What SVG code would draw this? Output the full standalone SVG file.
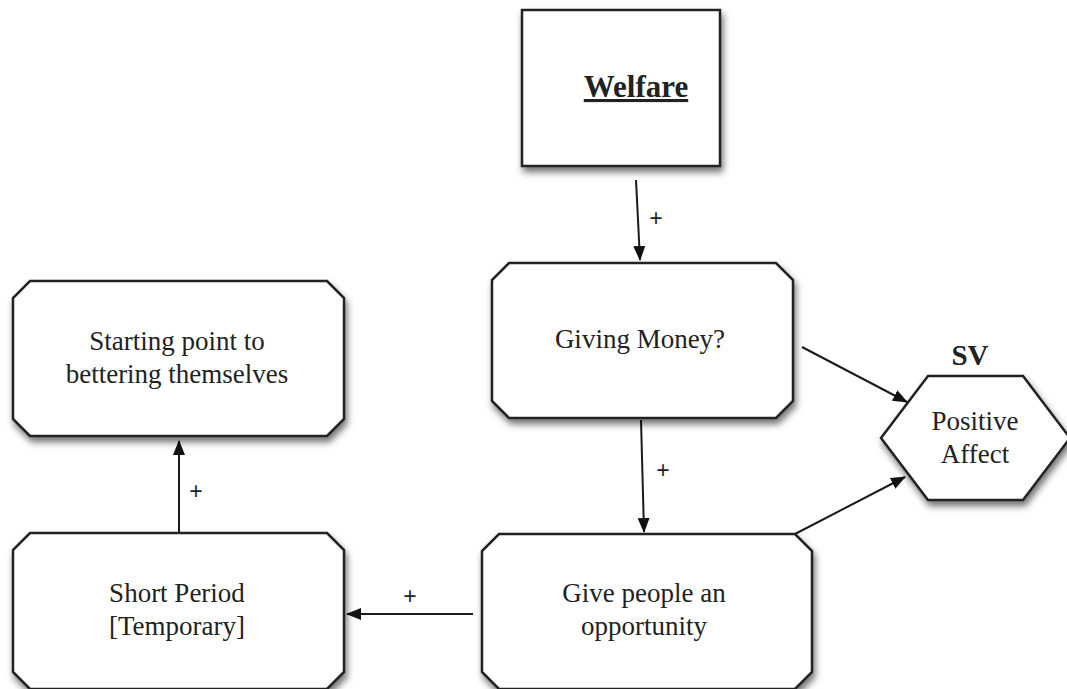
<svg xmlns="http://www.w3.org/2000/svg" width="1067" height="689" viewBox="0 0 1067 689">
<style>
.node{fill:#fff;stroke:#222;stroke-width:2.5;filter:url(#sh)}
text.t{font-family:'Liberation Serif','DejaVu Serif','Times New Roman',serif;font-size:27px;fill:#222;text-anchor:middle}
text.b{font-weight:bold}
text.w{font-size:31px;text-decoration:underline}
text.sv{font-size:29px}
.edge{stroke:#1a1a1a;stroke-width:2;fill:none;marker-end:url(#ah)}
text.pl{font-family:'Liberation Sans',Arial,sans-serif;font-size:23px;fill:#222;text-anchor:middle}
</style>
<defs>
<filter id="sh" x="-10%" y="-10%" width="125%" height="130%">
<feDropShadow dx="2" dy="5" stdDeviation="3.5" flood-color="#000" flood-opacity="0.55"/>
</filter>
<marker id="ah" markerWidth="15" markerHeight="12" refX="14" refY="6" orient="auto" markerUnits="userSpaceOnUse">
<path d="M0,0 L15,6 L0,12 Z" fill="#111"/>
</marker>
</defs>
<rect width="1067" height="689" fill="#fff"/>
<g id="connectors">
<line class="edge" x1="636" y1="180" x2="640" y2="260"/>
<text class="pl" x="656" y="226">+</text>
<line class="edge" x1="641" y1="420" x2="644" y2="532"/>
<text class="pl" x="663" y="478">+</text>
<line class="edge" x1="802" y1="347" x2="907" y2="402"/>
<line class="edge" x1="795" y1="534" x2="905" y2="477"/>
<line class="edge" x1="473" y1="614" x2="347" y2="614"/>
<text class="pl" x="410" y="604">+</text>
<line class="edge" x1="179" y1="533" x2="179" y2="441"/>
<text class="pl" x="196" y="499">+</text>
</g>
<g id="welfare">
<rect class="node" x="522" y="10" width="198" height="156"/>
<text class="t b w" x="636" y="97">Welfare</text>
</g>
<g id="giving-money">
<polygon class="node" points="509,263 776,263 793,280 793,401 776,418 509,418 492,401 492,280"/>
<text class="t" x="640" y="348">Giving Money?</text>
</g>
<g id="positive-affect">
<text class="t b sv" x="970" y="365">SV</text>
<polygon class="node" points="928,376 1023,376 1070,438 1023,500 928,500 881,438"/>
<text class="t" x="975" y="430">Positive</text>
<text class="t" x="975" y="463">Affect</text>
</g>
<g id="starting-point">
<polygon class="node" points="30,281 327,281 344,298 344,419 327,436 30,436 13,419 13,298"/>
<text class="t" x="177" y="350">Starting point to</text>
<text class="t" x="177" y="383">bettering themselves</text>
</g>
<g id="short-period">
<polygon class="node" points="30,533 327,533 344,550 344,672 327,689 30,689 13,672 13,550"/>
<text class="t" x="177" y="602">Short Period</text>
<text class="t" x="177" y="635">[Temporary]</text>
</g>
<g id="give-people">
<polygon class="node" points="499,534 795,534 812,551 812,672 795,689 499,689 482,672 482,551"/>
<text class="t" x="644" y="602">Give people an</text>
<text class="t" x="644" y="635">opportunity</text>
</g>
</svg>
